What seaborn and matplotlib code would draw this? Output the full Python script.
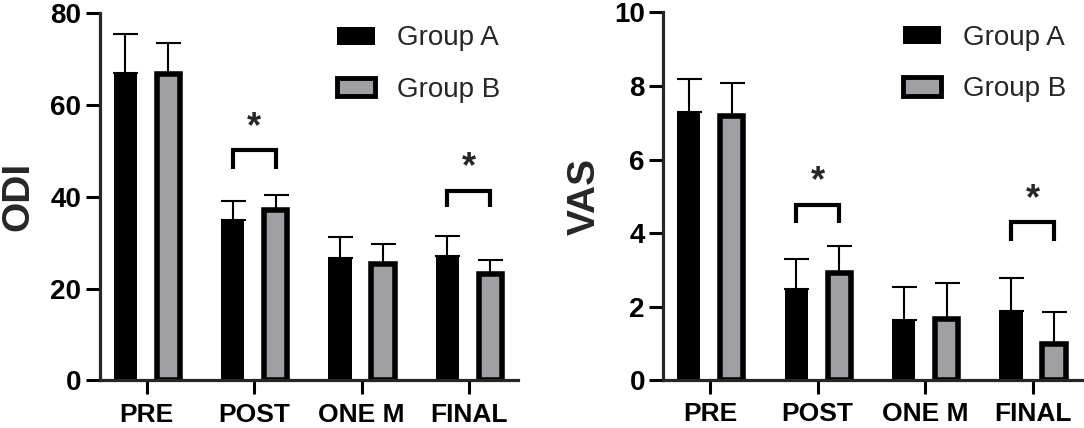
import numpy as np
import pandas as pd
import matplotlib
matplotlib.use("Agg")
import matplotlib.pyplot as plt
from matplotlib.patches import Patch
import seaborn as sns

# data (mean and upper SD)
times = ["PRE", "POST", "ONE M", "FINAL"]
groups = ["Group A", "Group B"]

odi_a = [67.0, 35.0, 26.6, 27.1]
odi_a_sd = [8.4, 4.0, 4.7, 4.4]
odi_b = [66.7, 37.1, 25.3, 23.2]
odi_b_sd = [6.7, 3.3, 4.4, 3.1]

vas_a = [7.29, 2.49, 1.63, 1.89]
vas_a_sd = [0.89, 0.80, 0.89, 0.89]
vas_b = [7.18, 2.90, 1.66, 0.99]
vas_b_sd = [0.89, 0.76, 0.98, 0.86]

# significance brackets: category index, bracket top, leg bottom, star centre
odi_sig_idx = [1, 3]
odi_sig_top = [50.2, 41.2]
odi_sig_leg = [46.0, 37.7]
odi_sig_star = [55.1, 46.3]

vas_sig_idx = [1, 3]
vas_sig_top = [4.77, 4.31]
vas_sig_leg = [4.26, 3.77]
vas_sig_star = [5.41, 4.91]

GREY = "#a0a0a4"

sns.set_style("ticks")
plt.rcParams["font.family"] = ["Liberation Sans", "DejaVu Sans"]


def draw_panel(ax, a, a_sd, b, b_sd, ylabel, ymax, ystep, sig_idx, sig_top, sig_leg, sig_star,
               label_x, legend_x):
    df = pd.DataFrame({
        "time": times * 2,
        "group": [groups[0]] * 4 + [groups[1]] * 4,
        "value": a + b,
    })
    sns.barplot(data=df, x="time", y="value", hue="group", order=times, hue_order=groups,
                palette={"Group A": "black", "Group B": GREY}, width=0.8, gap=0.46,
                edgecolor="black", linewidth=4, errorbar=None, legend=False, ax=ax, zorder=2)

    bars = ax.patches
    # group A bars are solid black, no outline
    for p in bars[:4]:
        p.set_linewidth(0)
    xa = [p.get_x() + p.get_width() / 2 for p in bars[:4]]
    xb = [p.get_x() + p.get_width() / 2 for p in bars[4:8]]

    ax.errorbar(xa, a, yerr=[np.zeros(4), a_sd], fmt="none", ecolor="black",
                elinewidth=1.5, capsize=9, capthick=1.5, zorder=1)
    ax.errorbar(xb, b, yerr=[np.zeros(4), b_sd], fmt="none", ecolor="black",
                elinewidth=1.5, capsize=9, capthick=1.5, zorder=1)

    for i, top, leg, star in zip(sig_idx, sig_top, sig_leg, sig_star):
        ax.plot([xa[i], xa[i], xb[i], xb[i]], [leg, top, top, leg], color="black",
                lw=3, solid_joinstyle="miter", solid_capstyle="butt", zorder=3)
        ax.text((xa[i] + xb[i]) / 2, star, "*", ha="center", va="center",
                fontsize=26, fontweight="bold")

    ax.set_xlim(-0.44, 3.46)
    ax.set_ylim(0, ymax)
    ax.set_yticks(np.arange(0, ymax + ystep / 2, ystep))
    ax.set_xlabel("")
    ax.set_ylabel(ylabel, fontsize=28, fontweight="bold")
    ax.yaxis.set_label_coords(label_x, 0.5)
    sns.despine(ax=ax)
    for s in ["left", "bottom"]:
        ax.spines[s].set_linewidth(2.3)
    ax.tick_params(axis="both", length=10, width=2.2, colors="black")
    ax.tick_params(axis="x", pad=6, labelsize=19)
    ax.tick_params(axis="y", pad=3, labelsize=20)
    for lab in ax.get_xticklabels() + ax.get_yticklabels():
        lab.set_fontweight("bold")

    handles = [Patch(facecolor="black", edgecolor="black", linewidth=0),
               Patch(facecolor=GREY, edgecolor="black", linewidth=3.5)]
    ax.legend(handles, groups, loc="upper left", bbox_to_anchor=(legend_x, 0.966),
              frameon=False, fontsize=20, handlelength=1.36, handleheight=0.63,
              handletextpad=0.8, labelspacing=0.91, borderaxespad=0, borderpad=0)


fig = plt.figure(figsize=(10.84, 4.28), dpi=100)
ax1 = fig.add_axes([0.0918, 0.111, 0.3864, 0.8587])
ax2 = fig.add_axes([0.6116, 0.1121, 0.3865, 0.8587])

draw_panel(ax1, odi_a, odi_a_sd, odi_b, odi_b_sd, "ODI", 80, 20,
           odi_sig_idx, odi_sig_top, odi_sig_leg, odi_sig_star, -0.15, 0.567)
draw_panel(ax2, vas_a, vas_a_sd, vas_b, vas_b_sd, "VAS", 10, 2,
           vas_sig_idx, vas_sig_top, vas_sig_leg, vas_sig_star, -0.143, 0.574)

fig.savefig("out.png", dpi=100)
